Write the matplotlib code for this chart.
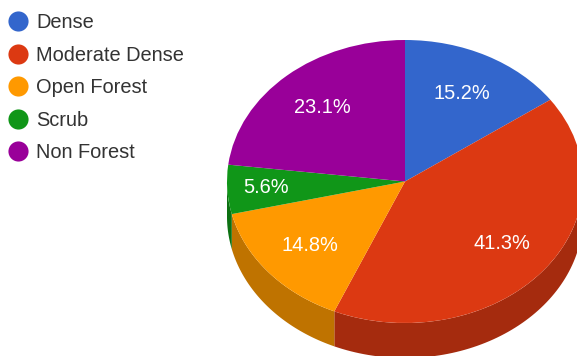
import numpy as np
import matplotlib
matplotlib.use('Agg')
import matplotlib.pyplot as plt
from matplotlib.lines import Line2D

# forest cover share in percent
labels = ['Dense', 'Moderate Dense', 'Open Forest', 'Scrub', 'Non Forest']
shares = [15.2, 41.3, 14.8, 5.6, 23.1]
colors = ['#3366cc', '#dc3912', '#ff9900', '#109618', '#990099']
side_colors = ['#264d99', '#a52b0e', '#bf7300', '#0c7112', '#730073']

W, H = 577, 356
cx, cy = 405, 181.5    # pie centre, pixels from top left
rx, ry = 178, 141.5    # ellipse radii, pixels
depth = 35 / ry        # height of the pie wall in data units
font_pt = 14.4

plt.rcParams['font.family'] = ['Liberation Sans', 'DejaVu Sans']

fig = plt.figure(figsize=(W / 100, H / 100), dpi=100)
ax = fig.add_axes([0, 0, 1, 1])

wedges, texts, pcts = ax.pie(shares, colors=colors, startangle=90, counterclock=False,
                             autopct='%.1f%%', pctdistance=0.7, frame=True,
                             wedgeprops={'linewidth': 0, 'zorder': 3},
                             textprops={'color': 'white', 'fontsize': font_pt, 'zorder': 4})

# unit circle squashed to an ellipse by the axis limits
ax.set_aspect('auto')
ax.set_xlim(-cx / rx, (W - cx) / rx)
ax.set_ylim(-(H - cy) / ry, cy / ry)
ax.axis('off')

# wall below the front half of the pie
for wedge, side in zip(wedges, side_colors):
    lo = max(wedge.theta1, -180)
    hi = min(wedge.theta2, 0)
    if lo >= hi:
        continue
    t = np.radians(np.linspace(lo, hi, 80))
    xs = np.cos(t)
    ys = np.sin(t)
    ax.fill(np.r_[xs, xs[::-1]], np.r_[ys, ys[::-1] - depth], color=side, lw=0, zorder=2)

# the small slice label sits further out
for pct, share in zip(pcts, shares):
    if share < 10:
        x, y = pct.get_position()
        pct.set_position((x * 1.12, y))

handles = [Line2D([], [], ls='none', marker='o', ms=14.5, mfc=c, mec='none') for c in colors]
fig.legend(handles, labels, loc='upper left', bbox_to_anchor=(1 / W, 1 - 9 / H),
           frameon=False, fontsize=font_pt, labelcolor='#333333', handletextpad=0.3,
           handlelength=1.25, labelspacing=0.68, borderpad=0.2, borderaxespad=0)

fig.savefig('out.png', dpi=100, facecolor='white')
